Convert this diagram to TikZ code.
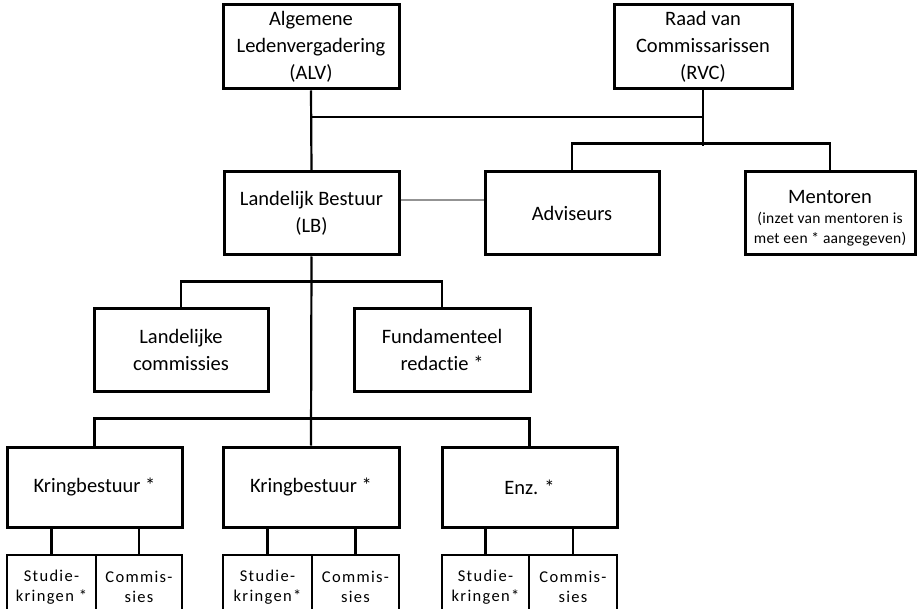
\documentclass[tikz,border=0pt]{standalone}
\usepackage{fontspec}
\setmainfont{Carlito}[Ligatures=NoCommon]
\newfontfamily\spacedfont{Carlito}[LetterSpace=8,Ligatures=NoCommon]
\newfontfamily\notefont{Carlito}[LetterSpace=2,Ligatures=NoCommon]
\begin{document}
\begin{tikzpicture}[x=1pt,y=-1pt,
  orgbox/.style={draw=black,line width=3pt,rectangle,align=center,inner sep=0pt,
    font=\fontsize{20.5}{27}\selectfont},
  plaintext/.style={align=center,inner sep=0pt},
  subbox/.style={draw=black,line width=2.2pt,rectangle,align=center,inner sep=0pt,
    minimum height=64pt,font=\spacedfont\fontsize{16.5}{20}\selectfont},
  conn/.style={line width=2.2pt},
  greyconn/.style={line width=1.4pt,draw=gray!85}
]
\useasboundingbox[fill=white] (0,0) rectangle (923,609);

% top level
\node[orgbox,minimum width=176pt,minimum height=84pt] (alv) at (311,47) {Algemene\\Ledenvergadering\\(ALV)};
\node[orgbox,minimum width=178pt,minimum height=84pt] (rvc) at (703,47) {Raad van\\Commissarissen\\(RVC)};

% second level
\node[orgbox,minimum width=175pt,minimum height=83pt] (lb) at (311.5,213.5) {Landelijk Bestuur\\(LB)};
\node[orgbox,minimum width=174pt,minimum height=83pt] (adv) at (572,213.5) {Adviseurs};
\node[orgbox,minimum width=170pt,minimum height=83pt] (ment) at (830,213.5) {};
\node[plaintext,font=\fontsize{20.5}{27}\selectfont] (menttitle) at (830,197) {Mentoren};
\node[plaintext,font=\notefont\fontsize{15.5}{20}\selectfont] (mentnote) at (830,229) {(inzet van mentoren is\\met een * aangegeven)};

% third level
\node[orgbox,minimum width=174pt,minimum height=82pt] (lc) at (181,350) {Landelijke\\commissies};
\node[orgbox,minimum width=176pt,minimum height=82pt] (fr) at (442,350) {Fundamenteel\\redactie *};

% kring level
\node[orgbox,minimum width=175pt,minimum height=80pt] (k1) at (94.5,487) {Kringbestuur *};
\node[orgbox,minimum width=176pt,minimum height=80pt] (k2) at (311,487) {Kringbestuur *};
\node[orgbox,minimum width=175pt,minimum height=80pt] (k3) at (529.5,487) {Enz. *};

% sub boxes
\node[subbox,minimum width=89pt] (s1a) at (51.5,587) {Studie-\\kringen *};
\node[subbox,minimum width=86pt] (s1b) at (139,587) {Commis-\\sies};
\node[subbox,minimum width=89pt] (s2a) at (267.5,587) {Studie-\\kringen*};
\node[subbox,minimum width=87pt] (s2b) at (355.5,587) {Commis-\\sies};
\node[subbox,minimum width=87pt] (s3a) at (485.5,587) {Studie-\\kringen*};
\node[subbox,minimum width=88pt] (s3b) at (573,587) {Commis-\\sies};

% connectors
\coordinate (h1) at (311,117);
\draw[conn] (alv.south) -- (lb.north);
\draw[conn] (h1) -| (rvc.south);
\draw[conn] (rvc.south) -- ++(0,56) coordinate (rj);
\draw[conn] (adv.north) -- ++(0,-27) -| (ment.north);
\draw[greyconn] ([yshift=13.5pt]lb.east) -- ([yshift=13.5pt]adv.west);
\draw[conn] (lb.south) -- (k2.north);
\draw[conn] (lc.north) -- ++(0,-26) -| (fr.north);
\draw[conn] (k1.north) -- ++(0,-27) -| (k3.north);

\draw[conn] (s1a.north |- k1.south) -- (s1a.north);
\draw[conn] (s1b.north |- k1.south) -- (s1b.north);
\draw[conn] (s2a.north |- k2.south) -- (s2a.north);
\draw[conn] (s2b.north |- k2.south) -- (s2b.north);
\draw[conn] (s3a.north |- k3.south) -- (s3a.north);
\draw[conn] (s3b.north |- k3.south) -- (s3b.north);
\end{tikzpicture}
\end{document}
